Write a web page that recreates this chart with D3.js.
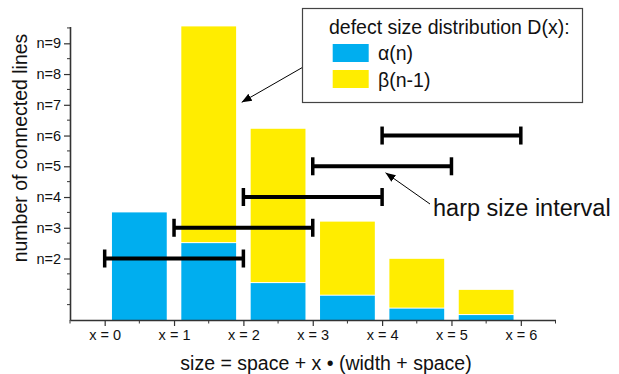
<!DOCTYPE html>
<html>
<head>
<meta charset="utf-8">
<script src="https://cdn.jsdelivr.net/npm/d3@7/dist/d3.min.js"></script>
<style>
  html, body { margin: 0; padding: 0; background: #fff; }
  svg { display: block; }
  text { font-family: Arial, "Liberation Sans", Helvetica, sans-serif; fill: #111; }
</style>
</head>
<body>
<svg id="chart" width="619" height="374"></svg>
<script>
// Defect size classes x = 0 .. 5 (bars sit between ticks x and x+1)
const sizeClasses = [0, 1, 2, 3, 4, 5];
// alpha(n): lower (blue) part of each stacked bar
const alphaValues = [3.5, 2.5, 1.2, 0.79, 0.37, 0.16];
// beta(n-1): upper (yellow) part of each stacked bar
const betaValues = [0, 7.05, 5.02, 2.41, 1.62, 0.82];

// Harp size intervals: one horizontal span per number of connected lines
const intervalStart = [0, 1, 2, 3, 4];
const intervalEnd = [2, 3, 4, 5, 6];
const intervalLevel = [2, 3, 4, 5, 6];

// Axis tick labels
const xTickValues = [0, 1, 2, 3, 4, 5, 6];
const xTickLabels = ["x = 0", "x = 1", "x = 2", "x = 3", "x = 4", "x = 5", "x = 6"];
const yTickValues = [2, 3, 4, 5, 6, 7, 8, 9];
const yTickLabels = ["n=2", "n=3", "n=4", "n=5", "n=6", "n=7", "n=8", "n=9"];

const legendLabels = ["\u03B1(n)", "\u03B2(n-1)"];
const colors = { alpha: "#00AEEF", beta: "#FFED00" };

const svg = d3.select("#chart");

const x = d3.scaleLinear().domain([-0.5, 6.5]).range([70, 555.5]);
const y = d3.scaleLinear().domain([0, 9.55]).range([320, 26.4]);
const barWidth = 0.79;

// ---- bars ----
const bars = svg.append("g");
sizeClasses.forEach((c, i) => {
  const x0 = x(c + 0.5 - barWidth / 2);
  const w = x(c + 0.5 + barWidth / 2) - x0;
  const a = alphaValues[i], b = betaValues[i];
  bars.append("rect")
    .attr("x", x0).attr("width", w)
    .attr("y", y(a)).attr("height", y(0) - y(a))
    .attr("fill", colors.alpha);
  if (b > 0) {
    bars.append("rect")
      .attr("x", x0).attr("width", w)
      .attr("y", y(a + b)).attr("height", y(a) - y(a + b) - 1)
      .attr("fill", colors.beta);
  }
});

// ---- axes ----
const axisColor = "#333";
const xAxis = d3.axisBottom(x)
  .tickValues(xTickValues)
  .tickFormat((d, i) => xTickLabels[i])
  .tickSize(6).tickPadding(4).tickSizeOuter(0);
const gx = svg.append("g").attr("transform", `translate(0,${y(0)})`).call(xAxis);
gx.select(".domain").attr("stroke", axisColor).attr("stroke-width", 1.6);
gx.selectAll(".tick line").attr("stroke", axisColor).attr("stroke-width", 1.2);
gx.selectAll(".tick text").attr("font-size", 14.5).attr("fill", "#111")
  .attr("font-family", "Arial, 'Liberation Sans', sans-serif");
// minor ticks on the x axis
gx.selectAll(".minor").data(d3.range(-0.5, 6.6, 1)).join("line")
  .attr("x1", d => x(d)).attr("x2", d => x(d))
  .attr("y1", 0).attr("y2", 3.5)
  .attr("stroke", axisColor).attr("stroke-width", 1);

const yAxis = d3.axisLeft(y)
  .tickValues(yTickValues)
  .tickFormat((d, i) => yTickLabels[i])
  .tickSize(6).tickPadding(3).tickSizeOuter(0);
const gy = svg.append("g").attr("transform", `translate(${x(-0.5)},0)`).call(yAxis);
gy.select(".domain").attr("stroke", axisColor).attr("stroke-width", 1.6);
gy.selectAll(".tick line").attr("stroke", axisColor).attr("stroke-width", 1.2);
gy.selectAll(".tick text").attr("font-size", 14.5).attr("fill", "#111")
  .attr("font-family", "Arial, 'Liberation Sans', sans-serif");
// minor ticks on the y axis
gy.selectAll(".minor").data(d3.range(0.5, 9.6, 0.5).filter(v => !yTickValues.includes(v))).join("line")
  .attr("x1", 0).attr("x2", -3)
  .attr("y1", d => y(d)).attr("y2", d => y(d))
  .attr("stroke", axisColor).attr("stroke-width", 1);

// ---- harp size intervals ----
const harps = svg.append("g").attr("stroke", "#000");
intervalLevel.forEach((n, i) => {
  const yy = y(n);
  const xa = x(intervalStart[i]), xb = x(intervalEnd[i]);
  harps.append("line").attr("x1", xa).attr("x2", xb).attr("y1", yy).attr("y2", yy)
    .attr("stroke-width", 4);
  [xa, xb].forEach(xx => {
    harps.append("line").attr("x1", xx).attr("x2", xx)
      .attr("y1", yy - 9).attr("y2", yy + 9).attr("stroke-width", 3.5);
  });
});

// ---- arrow marker ----
svg.append("defs").append("marker")
  .attr("id", "arrowhead")
  .attr("viewBox", "0 0 10 10")
  .attr("refX", 10).attr("refY", 5)
  .attr("markerWidth", 10).attr("markerHeight", 10)
  .attr("markerUnits", "userSpaceOnUse")
  .attr("orient", "auto")
  .append("path").attr("d", "M0,1 L10,5 L0,9 Z").attr("fill", "#000");

// ---- legend ----
const legend = svg.append("g");
legend.append("rect")
  .attr("x", 302.5).attr("y", 8.5).attr("width", 280).attr("height", 94)
  .attr("fill", "#fff").attr("stroke", "#444").attr("stroke-width", 1.2);
legend.append("text").attr("x", 329).attr("y", 34.3)
  .attr("font-size", 19.5).text("defect size distribution D(x):");
[colors.alpha, colors.beta].forEach((c, i) => {
  legend.append("rect").attr("x", 332.7).attr("y", 44 + i * 26)
    .attr("width", 36).attr("height", 18).attr("fill", c);
  legend.append("text").attr("x", 378).attr("y", 60 + i * 26.5)
    .attr("font-size", 19.5).text(legendLabels[i]);
});

// arrow from legend to the bars
svg.append("line")
  .attr("x1", 302).attr("y1", 67.7).attr("x2", 241.7).attr("y2", 102.3)
  .attr("stroke", "#000").attr("stroke-width", 1)
  .attr("marker-end", "url(#arrowhead)");

// annotation for the harp intervals
svg.append("text").attr("x", 433).attr("y", 216)
  .attr("font-size", 23.5).text("harp size interval");
svg.append("line")
  .attr("x1", 430).attr("y1", 204).attr("x2", 385.5).attr("y2", 172.7)
  .attr("stroke", "#000").attr("stroke-width", 1)
  .attr("marker-end", "url(#arrowhead)");

// ---- axis titles ----
svg.append("text")
  .attr("transform", "translate(27,148) rotate(-90)")
  .attr("text-anchor", "middle")
  .attr("font-size", 19.5).text("number of connected lines");
svg.append("text")
  .attr("x", 326).attr("y", 370).attr("text-anchor", "middle")
  .attr("font-size", 19.5).text("size = space + x \u2022 (width + space)");
</script>
</body>
</html>
